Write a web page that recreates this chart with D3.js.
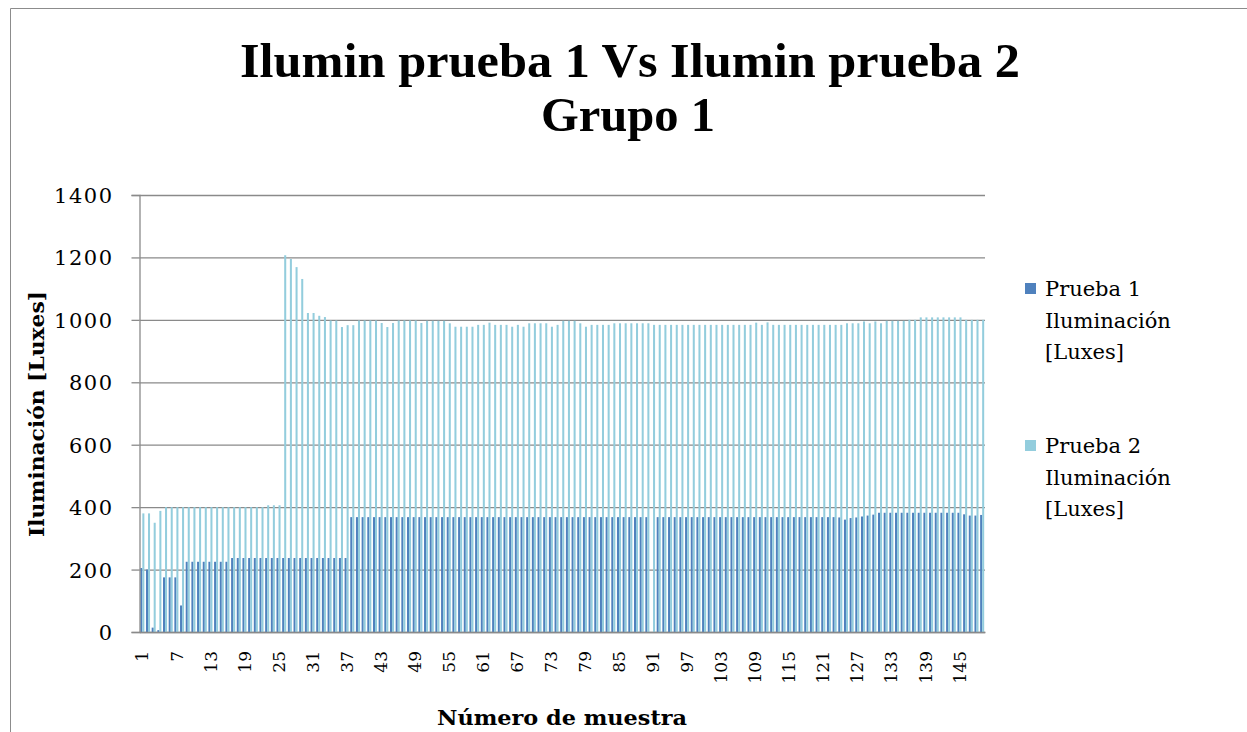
<!DOCTYPE html>
<html>
<head>
<meta charset="utf-8">
<script src="https://cdn.jsdelivr.net/npm/d3@7"></script>
<style>
  body { margin: 0; background: #fff; }
  svg { display: block; }
</style>
</head>
<body>
<svg id="chart"></svg>
<script>
// Prueba 1 - iluminacion por muestra (1..149)
const prueba1 = [
  205, 200, 14, 6, 175, 175, 175, 85, 225, 225,
  225, 225, 225, 225, 225, 225, 237, 237, 237, 237,
  237, 237, 237, 237, 237, 237, 237, 237, 237, 237,
  237, 237, 237, 237, 237, 237, 237, 368, 368, 368,
  368, 368, 368, 368, 368, 368, 368, 368, 368, 368,
  368, 368, 368, 368, 368, 368, 368, 368, 368, 368,
  368, 368, 368, 368, 368, 368, 368, 368, 368, 368,
  368, 368, 368, 368, 368, 368, 368, 368, 368, 368,
  368, 368, 368, 368, 368, 368, 368, 368, 368, 368,
  0, 368, 368, 368, 368, 368, 368, 368, 368, 368,
  368, 368, 368, 368, 368, 368, 368, 368, 368, 368,
  368, 368, 368, 368, 368, 368, 368, 368, 368, 368,
  368, 368, 368, 367, 360, 365, 367, 370, 373, 376,
  382, 382, 382, 382, 382, 382, 382, 382, 382, 382,
  382, 382, 382, 382, 382, 377, 373, 373, 375
];

// Prueba 2
const prueba2 = [
  380, 380, 350, 388, 400, 400, 400, 400, 400, 400,
  400, 400, 400, 400, 400, 400, 400, 400, 400, 400,
  400, 400, 406, 406, 406, 1207, 1195, 1169, 1131, 1022,
  1022, 1013, 1009, 998, 998, 977, 983, 983, 998, 998,
  998, 998, 990, 977, 990, 998, 998, 998, 998, 990,
  997, 997, 997, 997, 989, 978, 978, 978, 978, 984,
  984, 991, 984, 984, 984, 978, 984, 978, 989, 989,
  989, 989, 978, 984, 997, 997, 997, 989, 978, 984,
  984, 984, 984, 989, 989, 989, 989, 989, 989, 989,
  984, 984, 984, 984, 984, 984, 984, 984, 984, 984,
  984, 984, 984, 984, 984, 984, 984, 984, 991, 984,
  992, 984, 984, 984, 984, 984, 984, 984, 984, 984,
  984, 984, 984, 984, 989, 989, 989, 995, 989, 995,
  989, 997, 997, 997, 997, 1000, 1000, 1008, 1008, 1008,
  1008, 1008, 1008, 1008, 1008, 1000, 1000, 1000, 1000
];

const samples = d3.range(1, prueba1.length + 1);
const xTickLabels = [1, 7, 13, 19, 25, 31, 37, 43, 49, 55, 61, 67, 73, 79, 85, 91,
  97, 103, 109, 115, 121, 127, 133, 139, 145];
const yTicks = [0, 200, 400, 600, 800, 1000, 1200, 1400];
const seriesNames = [
  ["Prueba 1", "Iluminación", "[Luxes]"],
  ["Prueba 2", "Iluminación", "[Luxes]"]
];
const colors = ["#4f81bd", "#93cddd"];

const width = 1247, height = 732;
const svg = d3.select("#chart")
  .attr("width", width)
  .attr("height", height);

svg.append("rect").attr("width", width).attr("height", height).attr("fill", "#fff");

// chart frame (cut off on the right and bottom)
svg.append("path")
  .attr("d", "M10.5,745V8.5H1260")
  .attr("fill", "none")
  .attr("stroke", "#8c8c8c");

const plot = { left: 139.5, right: 985, top: 195, bottom: 632 };

const x = d3.scaleBand().domain(samples).range([plot.left, plot.right]);
const y = d3.scaleLinear().domain([0, 1400]).range([plot.bottom, plot.top]);
// two bars per sample, small gap between samples
const bw = x.bandwidth() / 2.8;
const off = (x.bandwidth() - 2 * bw) / 2;

// gridlines
svg.append("g")
  .attr("transform", `translate(${plot.left},0)`)
  .call(d3.axisLeft(y).tickValues(yTicks).tickSize(-(plot.right - plot.left)).tickFormat(""))
  .call(g => g.select(".domain").remove())
  .call(g => g.selectAll("line").attr("stroke", "#8a8a8a").attr("stroke-width", 1.3));

// bars
const series = [prueba1, prueba2];
series.forEach((vals, s) => {
  svg.append("g")
    .selectAll("rect")
    .data(vals)
    .join("rect")
    .attr("x", (d, i) => x(samples[i]) + off + s * bw)
    .attr("width", bw)
    .attr("y", d => y(d))
    .attr("height", d => y(0) - y(d))
    .attr("fill", colors[s]);
});

// y axis
svg.append("g")
  .attr("transform", `translate(${plot.left},0)`)
  .call(d3.axisLeft(y).tickValues(yTicks).tickSize(8).tickPadding(0).tickFormat(d3.format("d")))
  .call(g => g.select(".domain").attr("stroke", "#8a8a8a").attr("stroke-width", 1.3))
  .call(g => g.selectAll("line").attr("stroke", "#8a8a8a").attr("stroke-width", 1.3))
  .call(g => g.selectAll("text")
    .attr("x", -26)
    .attr("dy", "0.36em")
    .attr("fill", "#000")
    .style("font-family", "'DejaVu Serif', serif")
    .style("font-size", "21px")
    .style("letter-spacing", "1.5px"));

// x axis
svg.append("g")
  .attr("transform", `translate(0,${plot.bottom})`)
  .call(d3.axisBottom(x).tickValues(xTickLabels).tickSize(0))
  .call(g => g.select(".domain").attr("stroke", "#8a8a8a").attr("stroke-width", 1.3))
  .call(g => g.selectAll("text")
    .attr("transform", "rotate(-90)")
    .attr("x", -19)
    .attr("y", 0)
    .attr("dy", "0.36em")
    .attr("fill", "#000")
    .style("text-anchor", "end")
    .style("font-family", "'DejaVu Serif', serif")
    .style("font-size", "17px"));

// title, two lines
const title = svg.append("text")
  .attr("text-anchor", "middle")
  .style("font-family", "'Liberation Serif', serif")
  .style("font-weight", "bold")
  .style("font-size", "48.5px");
title.append("tspan").attr("x", 630).attr("y", 77)
  .attr("textLength", 780).attr("lengthAdjust", "spacingAndGlyphs")
  .text("Ilumin prueba 1 Vs Ilumin prueba 2");
title.append("tspan").attr("x", 628).attr("y", 131)
  .attr("textLength", 174).attr("lengthAdjust", "spacingAndGlyphs")
  .text("Grupo 1");

// axis titles
svg.append("text")
  .attr("transform", "translate(44,414) rotate(-90)")
  .attr("text-anchor", "middle")
  .style("font-family", "'DejaVu Serif', serif")
  .style("font-weight", "bold")
  .style("font-size", "20px")
  .attr("textLength", 246).attr("lengthAdjust", "spacingAndGlyphs")
  .text("Iluminación [Luxes]");

svg.append("text")
  .attr("x", 562).attr("y", 725)
  .attr("text-anchor", "middle")
  .style("font-family", "'DejaVu Serif', serif")
  .style("font-weight", "bold")
  .style("font-size", "20px")
  .attr("textLength", 250).attr("lengthAdjust", "spacingAndGlyphs")
  .text("Número de muestra");

// legend
const legendTop = [283, 440];
const legend = svg.append("g")
  .style("font-family", "'DejaVu Serif', serif")
  .style("font-size", "21px");
seriesNames.forEach((lines, s) => {
  const g = legend.append("g").attr("transform", `translate(1025,${legendTop[s]})`);
  g.append("rect").attr("width", 11).attr("height", 11).attr("fill", colors[s]);
  lines.forEach((t, j) => {
    g.append("text")
      .attr("x", 20)
      .attr("y", 13 + j * 31.5)
      .attr("fill", "#000")
      .text(t);
  });
});
</script>
</body>
</html>
